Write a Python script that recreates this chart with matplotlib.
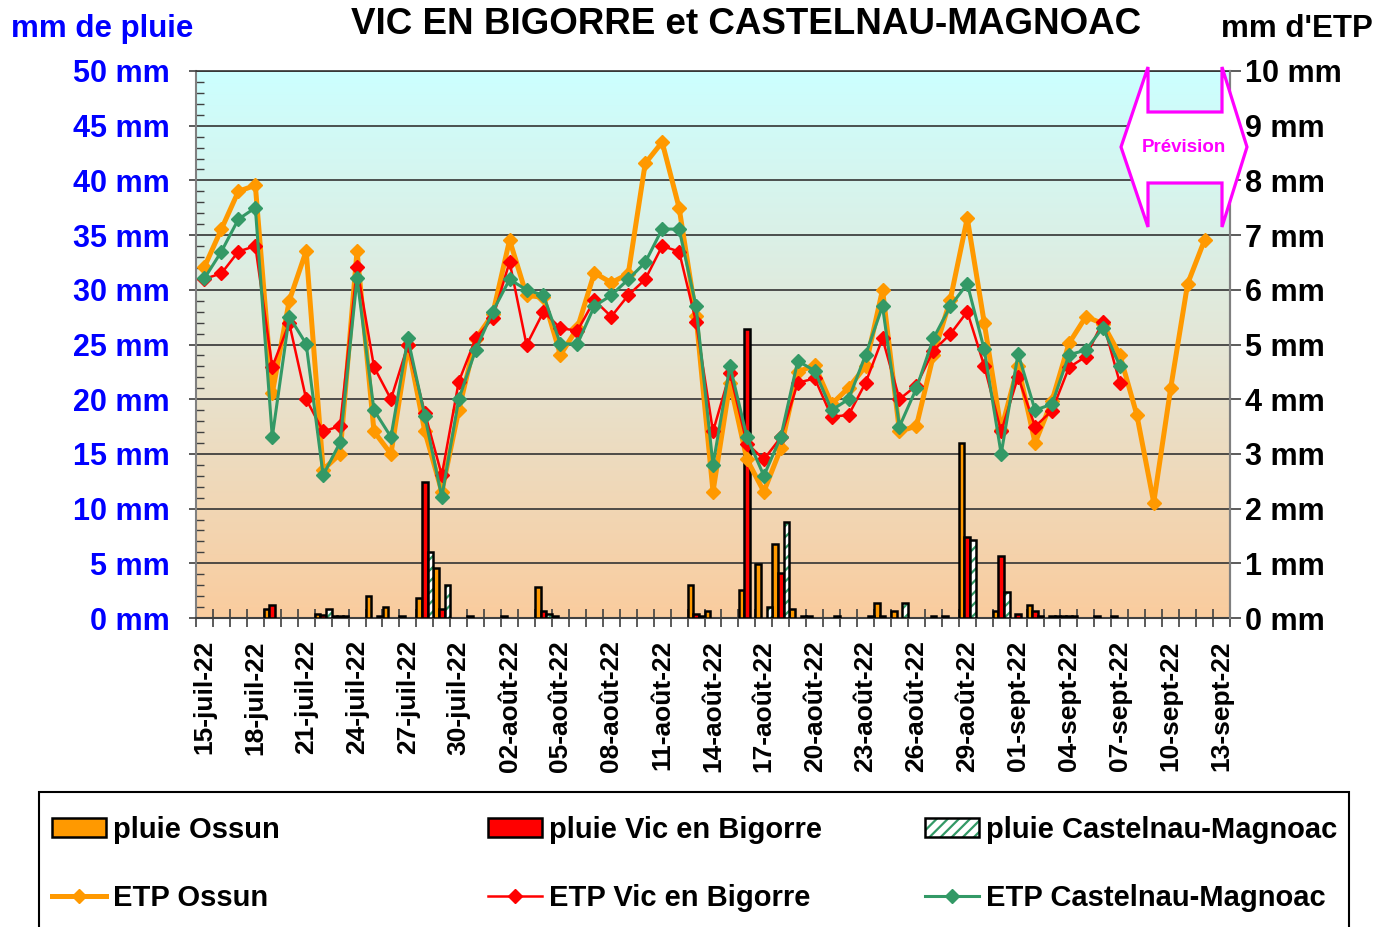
import numpy as np
import pandas as pd
import matplotlib
matplotlib.use('Agg')
import matplotlib.pyplot as plt
from matplotlib.colors import LinearSegmentedColormap
from matplotlib.patches import Patch, Polygon, Rectangle

plt.rcParams['font.family'] = ['Liberation Sans', 'DejaVu Sans']
plt.rcParams['font.weight'] = 'bold'
plt.rcParams['hatch.linewidth'] = 1.6

nan = np.nan

# ---- categories (jours) ----
dates = pd.date_range('2022-07-15', '2022-09-13')
mois = {7: 'juil', 8: 'août', 9: 'sept'}
etiquettes = [f"{d.day:02d}-{mois[d.month]}-22" for d in dates]

# ---- pluie (mm) ----
pluie_ossun = [
    0, 0, 0, 0, 0.8, 0, 0, 0.4, 0.2, 0,
    2.0, 1.0, 0.2, 1.8, 4.6, 0, 0.2, 0, 0.2, 0,
    2.8, 0.2, 0, 0, 0, 0, 0, 0, 0, 3.0,
    0.6, 0, 2.6, 4.9, 6.8, 0.8, 0.2, 0, 0, 0,
    1.4, 0.6, 0, 0, 0.2, 16.0, 0, 0.6, 0, 1.2,
    0, 0.2, 0, 0.2, 0.2, 0, 0, 0, 0, 0,
    0]
pluie_vic = [
    0, 0, 0, 0, 1.2, 0, 0, 0.3, 0.2, 0,
    0, 0, 0, 12.4, 0.8, 0, 0, 0, 0, 0,
    0.6, 0, 0, 0, 0, 0, 0, 0, 0, 0.4,
    0, 0, 26.4, 0, 4.1, 0, 0, 0, 0, 0,
    0.2, 0, 0, 0.2, 0, 7.4, 0, 5.7, 0.4, 0.6,
    0.2, 0.2, 0, 0, 0, 0, 0, 0, 0, 0,
    0]
pluie_castelnau = [
    0, 0, 0, 0, 0, 0, 0, 0.8, 0.2, 0,
    0.2, 0, 0, 6.0, 3.0, 0, 0, 0, 0, 0,
    0.4, 0, 0, 0, 0, 0, 0, 0, 0, 0.2,
    0, 0, 0, 1.0, 8.8, 0.2, 0, 0.2, 0, 0.2,
    0, 1.4, 0, 0, 0, 7.1, 0, 2.4, 0, 0.2,
    0.2, 0.2, 0, 0, 0, 0, 0, 0, 0, 0,
    0]

# ---- ETP (mm) ----
etp_ossun = [
    6.42, 7.11, 7.80, 7.91, 4.11, 5.80, 6.71, 2.71, 3.00, 6.71,
    3.41, 3.00, 4.99, 3.41, 2.31, 3.80, 5.10, 5.55, 6.91, 5.90,
    5.86, 4.81, 5.30, 6.31, 6.13, 6.29, 8.31, 8.70, 7.50, 5.52,
    2.31, 4.30, 2.90, 2.31, 3.10, 4.50, 4.62, 3.91, 4.21, 4.60,
    6.00, 3.41, 3.51, 4.80, 5.82, 7.31, 5.40, 3.44, 4.61, 3.20,
    3.97, 5.02, 5.51, 5.38, 4.81, 3.72, 2.11, 4.20, 6.11, 6.91,
    nan]
etp_vic = [
    6.20, 6.30, 6.70, 6.80, 4.59, 5.39, 4.00, 3.41, 3.51, 6.41,
    4.59, 4.00, 4.99, 3.75, 2.61, 4.32, 5.11, 5.48, 6.51, 4.99,
    5.60, 5.30, 5.25, 5.81, 5.51, 5.90, 6.19, 6.80, 6.70, 5.41,
    3.41, 4.48, 3.19, 2.90, 3.30, 4.30, 4.38, 3.68, 3.71, 4.30,
    5.11, 4.00, 4.25, 4.89, 5.19, 5.60, 4.61, 3.41, 4.41, 3.50,
    3.79, 4.58, 4.78, 5.42, 4.30, nan, nan, nan, nan, nan,
    nan]
etp_castelnau = [
    6.21, 6.70, 7.29, 7.50, 3.31, 5.51, 5.01, 2.61, 3.21, 6.21,
    3.80, 3.31, 5.11, 3.69, 2.21, 4.00, 4.90, 5.60, 6.19, 6.00,
    5.90, 5.01, 5.01, 5.70, 5.90, 6.19, 6.50, 7.11, 7.11, 5.70,
    2.80, 4.61, 3.31, 2.60, 3.31, 4.70, 4.52, 3.80, 4.00, 4.81,
    5.70, 3.50, 4.20, 5.11, 5.70, 6.11, 4.91, 3.00, 4.83, 3.80,
    3.91, 4.81, 4.90, 5.31, 4.61, nan, nan, nan, nan, nan,
    nan]

ORANGE = '#FF9900'
ROUGE = '#FF0000'
VERT = '#339966'
BLEU = '#0000FF'
MAGENTA = '#FF00FF'

W, H = 1391, 927
fig = plt.figure(figsize=(W / 100, H / 100), dpi=100)
ax = fig.add_axes([196 / W, 1 - 618 / H, (1230 - 196) / W, (618 - 71) / H])

x = np.arange(len(dates))

# fond dégradé
fond = LinearSegmentedColormap.from_list('fond', ['#FACC9E', '#E4E6D6', '#CCFFFF'])
ax.imshow(np.linspace(0, 1, 256).reshape(-1, 1), cmap=fond, origin='lower',
          extent=[-0.5, len(x) - 0.5, 0, 50], aspect='auto', zorder=0)

# barres de pluie
w = 0.33
for decal, valeurs, couleur in [(-w, pluie_ossun, ORANGE), (0, pluie_vic, ROUGE)]:
    v = np.array(valeurs, dtype=float)
    m = v > 0
    ax.bar(x[m] + decal, v[m], w, color=couleur, edgecolor='black', linewidth=1.8, zorder=3)
v = np.array(pluie_castelnau, dtype=float)
m = v > 0
ax.bar(x[m] + w, v[m], w, color='white', edgecolor=VERT, hatch='///', linewidth=0, zorder=3)
ax.bar(x[m] + w, v[m], w, fill=False, edgecolor='black', linewidth=1.8, zorder=3.1)

ax.set_xlim(-0.5, len(x) - 0.5)
ax.set_ylim(0, 50)

# axe gauche
ax.set_yticks(np.arange(0, 51, 5))
ax.set_yticklabels([f"{v} mm" for v in range(0, 51, 5)], color=BLEU, fontsize=22, fontweight='bold')
ax.set_yticks(np.arange(0, 51, 1), minor=True)
ax.tick_params(axis='y', which='major', direction='out', length=5, width=1.2, color='#404040', pad=14)
ax.tick_params(axis='y', which='minor', direction='in', length=6, width=1, color='#404040')
ax.grid(axis='y', which='major', color='#333333', linewidth=1.2)

# axe des dates
ax.set_xticks(x[::3])
ax.set_xticklabels(etiquettes[::3], rotation=90, fontsize=19, fontweight='bold')
ax.set_xticks(np.arange(-0.5, len(x)), minor=True)
ax.tick_params(axis='x', which='major', length=0, pad=16)
ax.tick_params(axis='x', which='minor', direction='inout', length=13, width=1.2, color='#404040')

for cote in ['left', 'right']:
    ax.spines[cote].set_color('#808080')
    ax.spines[cote].set_linewidth(1.5)
ax.spines['bottom'].set_color('#404040')
ax.spines['bottom'].set_linewidth(1.5)
ax.spines['top'].set_color('#333333')
ax.spines['top'].set_linewidth(1.2)

# ETP sur axe droit
ax2 = ax.twinx()
l_oss, = ax2.plot(x, etp_ossun, color=ORANGE, lw=3.6, marker='D', ms=7.5, zorder=3)
l_vic, = ax2.plot(x, etp_vic, color=ROUGE, lw=1.8, marker='D', ms=7, zorder=4)
l_cas, = ax2.plot(x, etp_castelnau, color=VERT, lw=2.2, marker='D', ms=7.5, zorder=5)
ax2.set_ylim(0, 10)
ax2.set_yticks(range(11))
ax2.set_yticklabels([f"{v} mm" for v in range(11)], fontsize=22, fontweight='bold')
ax2.tick_params(axis='y', direction='out', length=8, width=1.2, color='#404040', pad=3)
for cote in ['left', 'top', 'bottom']:
    ax2.spines[cote].set_visible(False)
ax2.spines['right'].set_color('#808080')
ax2.spines['right'].set_linewidth(1.5)

# titres
fig.text(102 / W, 1 - 29 / H, 'mm de pluie', color=BLEU, fontsize=22.5, ha='center', va='center')
fig.text(746 / W, 1 - 24 / H, 'VIC EN BIGORRE et CASTELNAU-MAGNOAC', fontsize=26.5,
         ha='center', va='center')
fig.text(1297 / W, 1 - 29 / H, "mm d'ETP", fontsize=22.5, ha='center', va='center')

# flèche "Prévision"
fleche = [(1121, 147), (1148, 67), (1148, 112), (1222, 112), (1222, 67), (1247, 147),
          (1222, 227), (1222, 183), (1148, 183), (1148, 227)]
fig.add_artist(Polygon([(px / W, 1 - py / H) for px, py in fleche], closed=True,
                       transform=fig.transFigure, facecolor='white', edgecolor=MAGENTA,
                       linewidth=2.3, zorder=10))
fig.text(1184 / W, 1 - 147 / H, 'Prévision', color=MAGENTA, fontsize=13.5,
         ha='center', va='center', zorder=11)

# légende
fig.add_artist(Rectangle((39 / W, -0.05), (1349 - 39) / W, (927 - 792) / H + 0.05,
                         transform=fig.transFigure, facecolor='white', edgecolor='black',
                         linewidth=1.5, zorder=1))
p_oss = Patch(facecolor=ORANGE, edgecolor='black', linewidth=1.8)
p_vic = Patch(facecolor=ROUGE, edgecolor='black', linewidth=1.8)
p_cas = (Patch(facecolor='white', edgecolor=VERT, hatch='///', linewidth=0),
         Patch(fill=False, edgecolor='black', linewidth=1.8))
colonnes = [(52, [p_oss, l_oss], ['pluie Ossun', 'ETP Ossun']),
            (488, [p_vic, l_vic], ['pluie Vic en Bigorre', 'ETP Vic en Bigorre']),
            (925, [p_cas, l_cas], ['pluie Castelnau-Magnoac', 'ETP Castelnau-Magnoac'])]
for x0, poignees, textes in colonnes:
    leg = fig.legend(poignees, textes, loc='center left', bbox_to_anchor=(x0 / W, 1 - 864 / H),
                     frameon=False, prop={'size': 21, 'weight': 'bold'}, handlelength=1.85,
                     handleheight=0.62, handletextpad=0.24, labelspacing=1.38,
                     borderpad=0, borderaxespad=0)
    leg.set_zorder(12)

fig.savefig('out.png', dpi=100)
